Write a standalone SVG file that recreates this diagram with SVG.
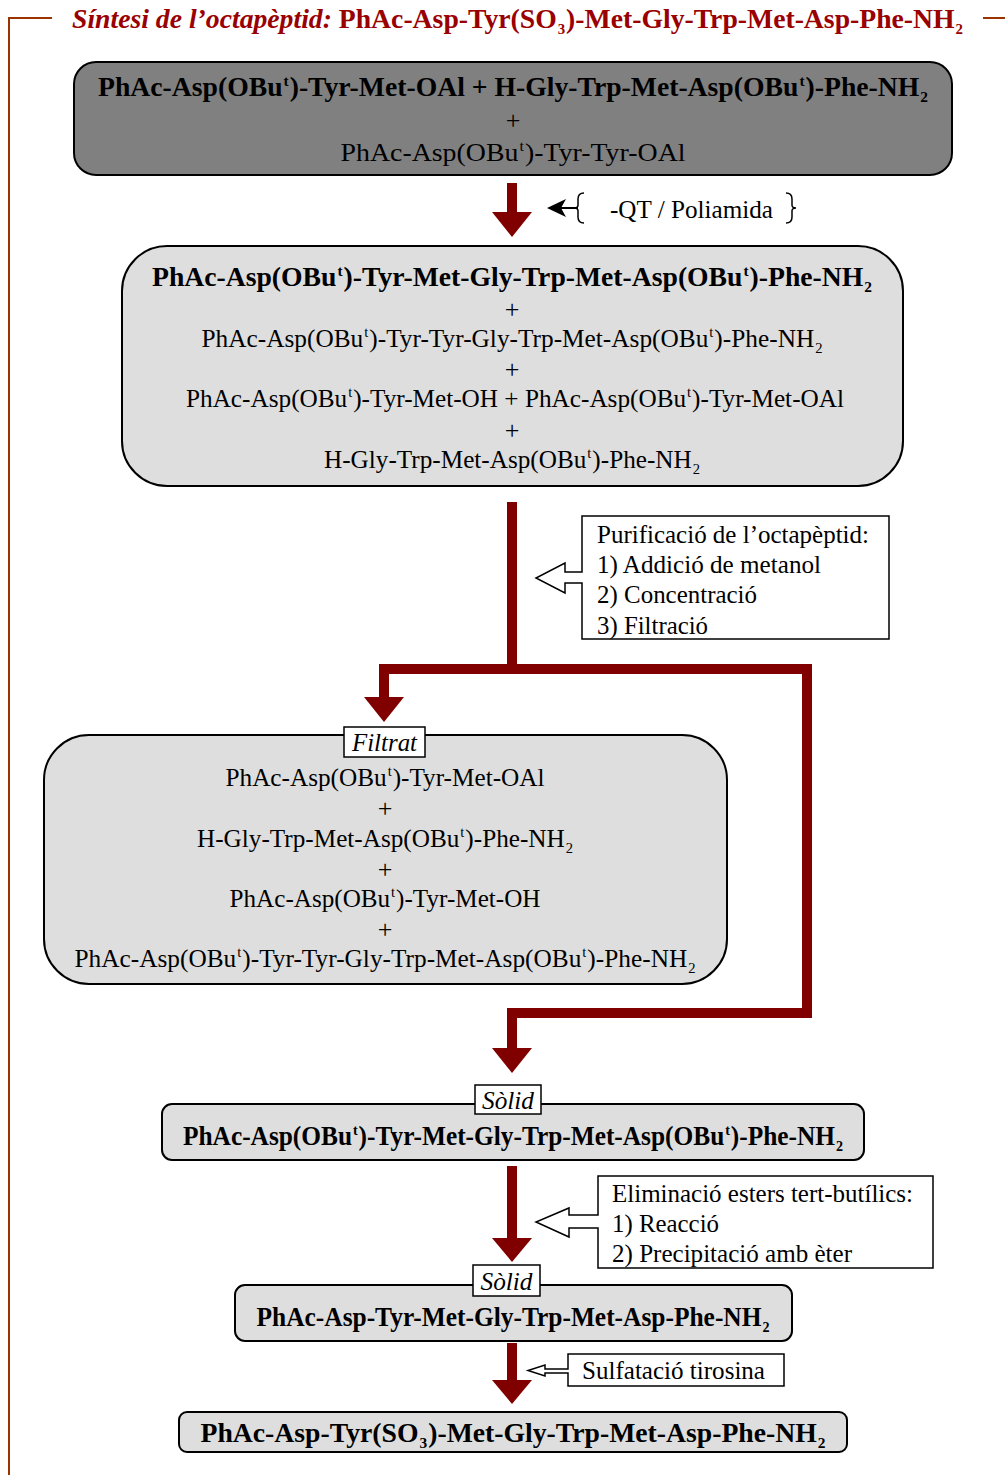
<svg xmlns="http://www.w3.org/2000/svg" width="1005" height="1475" viewBox="0 0 1005 1475">
  <style>
    .t { font-family: "Liberation Serif", "Times New Roman", serif; font-size: 26px; fill: #000; }
    .b { font-weight: bold; font-size: 27px; }
    .i { font-style: italic; }
    .mid { text-anchor: middle; }
    .box { stroke: #000; stroke-width: 2; }
    .dark { fill: #808080; }
    .light { fill: #dedede; }
    .tag { fill: #fff; stroke: #000; stroke-width: 1.5; }
    .note { fill: #fff; stroke: #000; stroke-width: 1.5; }
    .flow { fill: none; stroke: #800000; stroke-width: 10; }
    .head { fill: #800000; }
    .sup { font-size: 15px; }
  </style>

  <!-- frame -->
  <g id="frame" stroke="#993300" stroke-width="2" fill="none">
    <polyline points="52,18 9,18 9,1475"/>
    <line x1="983" y1="18" x2="1005" y2="18"/>
  </g>

  <!-- title -->
  <g id="title">
    <text class="t b" x="72" y="28" style="fill:#990000;font-size:28px" textLength="891" lengthAdjust="spacingAndGlyphs"><tspan class="i">Síntesi de l’octapèptid:</tspan> PhAc-Asp-Tyr(SO<tspan class="sup" dx="1" dy="6">3</tspan><tspan dx="1" dy="-6">)-Met-Gly-Trp-Met-Asp-Phe-NH</tspan><tspan class="sup" dx="1" dy="6">2</tspan></text>
  </g>

  <!-- connectors -->
  <g id="connectors">
    <line class="flow" x1="512" y1="183" x2="512" y2="214"/>
    <polygon class="head" points="492,212 532,212 512,237"/>

    <polyline class="flow" points="512,502 512,669 384,669 384,700"/>
    <polygon class="head" points="364,697 404,697 384,722"/>
    <polyline class="flow" points="512,669 807,669 807,1013 512,1013 512,1050"/>
    <polygon class="head" points="492,1048 532,1048 512,1073"/>

    <line class="flow" x1="512" y1="1166" x2="512" y2="1240"/>
    <polygon class="head" points="492,1238 532,1238 512,1262"/>

    <line class="flow" x1="512" y1="1343" x2="512" y2="1382"/>
    <polygon class="head" points="492,1380 532,1380 512,1404"/>
  </g>

  <!-- starting materials -->
  <g id="n1">
    <rect class="box dark" x="74" y="62" width="878" height="113" rx="22"/>
    <text class="t b mid" x="513" y="96" textLength="830" lengthAdjust="spacingAndGlyphs">PhAc-Asp(OBu<tspan class="sup" dx="1" dy="-10">t</tspan><tspan dx="1" dy="10">)-Tyr-Met-OAl + H-Gly-Trp-Met-Asp(OBu</tspan><tspan class="sup" dx="1" dy="-10">t</tspan><tspan dx="1" dy="10">)-Phe-NH</tspan><tspan class="sup" dx="1" dy="6">2</tspan></text>
    <text class="t mid" x="513" y="129">+</text>
    <text class="t mid" x="513" y="161" textLength="345" lengthAdjust="spacingAndGlyphs">PhAc-Asp(OBu<tspan class="sup" dx="1" dy="-10">t</tspan><tspan dx="1" dy="10">)-Tyr-Tyr-OAl</tspan></text>
  </g>

  <!-- coupling conditions -->
  <g id="n1-cond">
    <line x1="556" y1="208" x2="578" y2="208" stroke="#000" stroke-width="2"/>
    <path d="M547,208 L566,199 L561,208 L566,217 Z" fill="#000"/>
    <path d="M584,193 Q578,193 578,199 L578,205 Q578,208 574,208 Q578,208 578,211 L578,217 Q578,223 584,223" fill="none" stroke="#000" stroke-width="1.5"/>
    <text class="t" x="610" y="218" textLength="163" lengthAdjust="spacingAndGlyphs">-QT / Poliamida</text>
    <path d="M786,193 Q792,193 792,199 L792,205 Q792,208 796,208 Q792,208 792,211 L792,217 Q792,223 786,223" fill="none" stroke="#000" stroke-width="1.5"/>
  </g>

  <!-- crude coupling mixture -->
  <g id="n2">
    <rect class="box light" x="122" y="246" width="781" height="240" rx="45"/>
    <text class="t b mid" x="512" y="286" textLength="720" lengthAdjust="spacingAndGlyphs">PhAc-Asp(OBu<tspan class="sup" dx="1" dy="-10">t</tspan><tspan dx="1" dy="10">)-Tyr-Met-Gly-Trp-Met-Asp(OBu</tspan><tspan class="sup" dx="1" dy="-10">t</tspan><tspan dx="1" dy="10">)-Phe-NH</tspan><tspan class="sup" dx="1" dy="6">2</tspan></text>
    <text class="t mid" x="512" y="318">+</text>
    <text class="t mid" x="512" y="347" textLength="621" lengthAdjust="spacingAndGlyphs">PhAc-Asp(OBu<tspan class="sup" dx="1" dy="-10">t</tspan><tspan dx="1" dy="10">)-Tyr-Tyr-Gly-Trp-Met-Asp(OBu</tspan><tspan class="sup" dx="1" dy="-10">t</tspan><tspan dx="1" dy="10">)-Phe-NH</tspan><tspan class="sup" dx="1" dy="6">2</tspan></text>
    <text class="t mid" x="512" y="378">+</text>
    <text class="t mid" x="515" y="407" textLength="658" lengthAdjust="spacingAndGlyphs">PhAc-Asp(OBu<tspan class="sup" dx="1" dy="-10">t</tspan><tspan dx="1" dy="10">)-Tyr-Met-OH + PhAc-Asp(OBu</tspan><tspan class="sup" dx="1" dy="-10">t</tspan><tspan dx="1" dy="10">)-Tyr-Met-OAl</tspan></text>
    <text class="t mid" x="512" y="439">+</text>
    <text class="t mid" x="512" y="468" textLength="376" lengthAdjust="spacingAndGlyphs">H-Gly-Trp-Met-Asp(OBu<tspan class="sup" dx="1" dy="-10">t</tspan><tspan dx="1" dy="10">)-Phe-NH</tspan><tspan class="sup" dx="1" dy="6">2</tspan></text>
  </g>

  <!-- purification note -->
  <g id="n2-note">
    <path class="note" d="M582,516 L889,516 L889,639 L582,639 L582,583 L565,583 L565,593 L536,578 L565,563 L565,572 L582,572 Z"/>
    <text class="t" x="597" y="543" textLength="272" lengthAdjust="spacingAndGlyphs">Purificació de l’octapèptid:</text>
    <text class="t" x="597" y="573" textLength="224" lengthAdjust="spacingAndGlyphs">1) Addició de metanol</text>
    <text class="t" x="597" y="603" textLength="160" lengthAdjust="spacingAndGlyphs">2) Concentració</text>
    <text class="t" x="597" y="634" textLength="111" lengthAdjust="spacingAndGlyphs">3) Filtració</text>
  </g>

  <!-- filtrate -->
  <g id="n3">
    <rect class="box light" x="44" y="735" width="683" height="249" rx="45"/>
    <rect class="tag" x="344" y="727" width="81" height="30"/>
    <text class="t i mid" x="384.5" y="751" textLength="65" lengthAdjust="spacingAndGlyphs">Filtrat</text>
    <text class="t mid" x="385" y="786" textLength="319" lengthAdjust="spacingAndGlyphs">PhAc-Asp(OBu<tspan class="sup" dx="1" dy="-10">t</tspan><tspan dx="1" dy="10">)-Tyr-Met-OAl</tspan></text>
    <text class="t mid" x="385" y="817">+</text>
    <text class="t mid" x="385" y="847" textLength="376" lengthAdjust="spacingAndGlyphs">H-Gly-Trp-Met-Asp(OBu<tspan class="sup" dx="1" dy="-10">t</tspan><tspan dx="1" dy="10">)-Phe-NH</tspan><tspan class="sup" dx="1" dy="6">2</tspan></text>
    <text class="t mid" x="385" y="878">+</text>
    <text class="t mid" x="385" y="907" textLength="311" lengthAdjust="spacingAndGlyphs">PhAc-Asp(OBu<tspan class="sup" dx="1" dy="-10">t</tspan><tspan dx="1" dy="10">)-Tyr-Met-OH</tspan></text>
    <text class="t mid" x="385" y="938">+</text>
    <text class="t mid" x="385" y="967" textLength="621" lengthAdjust="spacingAndGlyphs">PhAc-Asp(OBu<tspan class="sup" dx="1" dy="-10">t</tspan><tspan dx="1" dy="10">)-Tyr-Tyr-Gly-Trp-Met-Asp(OBu</tspan><tspan class="sup" dx="1" dy="-10">t</tspan><tspan dx="1" dy="10">)-Phe-NH</tspan><tspan class="sup" dx="1" dy="6">2</tspan></text>
  </g>

  <!-- protected octapeptide (solid) -->
  <g id="n4">
    <rect class="box light" x="162" y="1104" width="702" height="56" rx="10"/>
    <rect class="tag" x="475" y="1085" width="66" height="29"/>
    <text class="t i mid" x="508" y="1109" textLength="52" lengthAdjust="spacingAndGlyphs">Sòlid</text>
    <text class="t b mid" x="513" y="1145" textLength="660" lengthAdjust="spacingAndGlyphs">PhAc-Asp(OBu<tspan class="sup" dx="1" dy="-10">t</tspan><tspan dx="1" dy="10">)-Tyr-Met-Gly-Trp-Met-Asp(OBu</tspan><tspan class="sup" dx="1" dy="-10">t</tspan><tspan dx="1" dy="10">)-Phe-NH</tspan><tspan class="sup" dx="1" dy="6">2</tspan></text>
  </g>

  <!-- deprotection note -->
  <g id="n4-note">
    <path class="note" d="M598,1176 L933,1176 L933,1268 L598,1268 L598,1228 L569,1228 L569,1237 L536,1222 L569,1208 L569,1215 L598,1215 Z"/>
    <text class="t" x="612" y="1202" textLength="301" lengthAdjust="spacingAndGlyphs">Eliminació esters tert-butílics:</text>
    <text class="t" x="612" y="1232" textLength="107" lengthAdjust="spacingAndGlyphs">1) Reacció</text>
    <text class="t" x="612" y="1262" textLength="240" lengthAdjust="spacingAndGlyphs">2) Precipitació amb èter</text>
  </g>

  <!-- deprotected octapeptide (solid) -->
  <g id="n5">
    <rect class="box light" x="235" y="1285" width="557" height="56" rx="10"/>
    <rect class="tag" x="473" y="1265" width="67" height="31"/>
    <text class="t i mid" x="506.5" y="1290" textLength="52" lengthAdjust="spacingAndGlyphs">Sòlid</text>
    <text class="t b mid" x="513" y="1326" textLength="513" lengthAdjust="spacingAndGlyphs">PhAc-Asp-Tyr-Met-Gly-Trp-Met-Asp-Phe-NH<tspan class="sup" dx="1" dy="6">2</tspan></text>
  </g>

  <!-- sulfation note -->
  <g id="n5-note">
    <path class="note" d="M568,1354 L784,1354 L784,1386 L568,1386 L568,1373 L545,1373 L545,1376 L528,1370.5 L545,1365 L545,1369 L568,1369 Z"/>
    <text class="t" x="582" y="1379" textLength="183" lengthAdjust="spacingAndGlyphs">Sulfatació tirosina</text>
  </g>

  <!-- final product -->
  <g id="n6">
    <rect class="box light" x="179" y="1412" width="668" height="40" rx="8"/>
    <text class="t b mid" x="513" y="1442" textLength="625" lengthAdjust="spacingAndGlyphs">PhAc-Asp-Tyr(SO<tspan class="sup" dx="1" dy="6">3</tspan><tspan dx="1" dy="-6">)-Met-Gly-Trp-Met-Asp-Phe-NH</tspan><tspan class="sup" dx="1" dy="6">2</tspan></text>
  </g>
</svg>
